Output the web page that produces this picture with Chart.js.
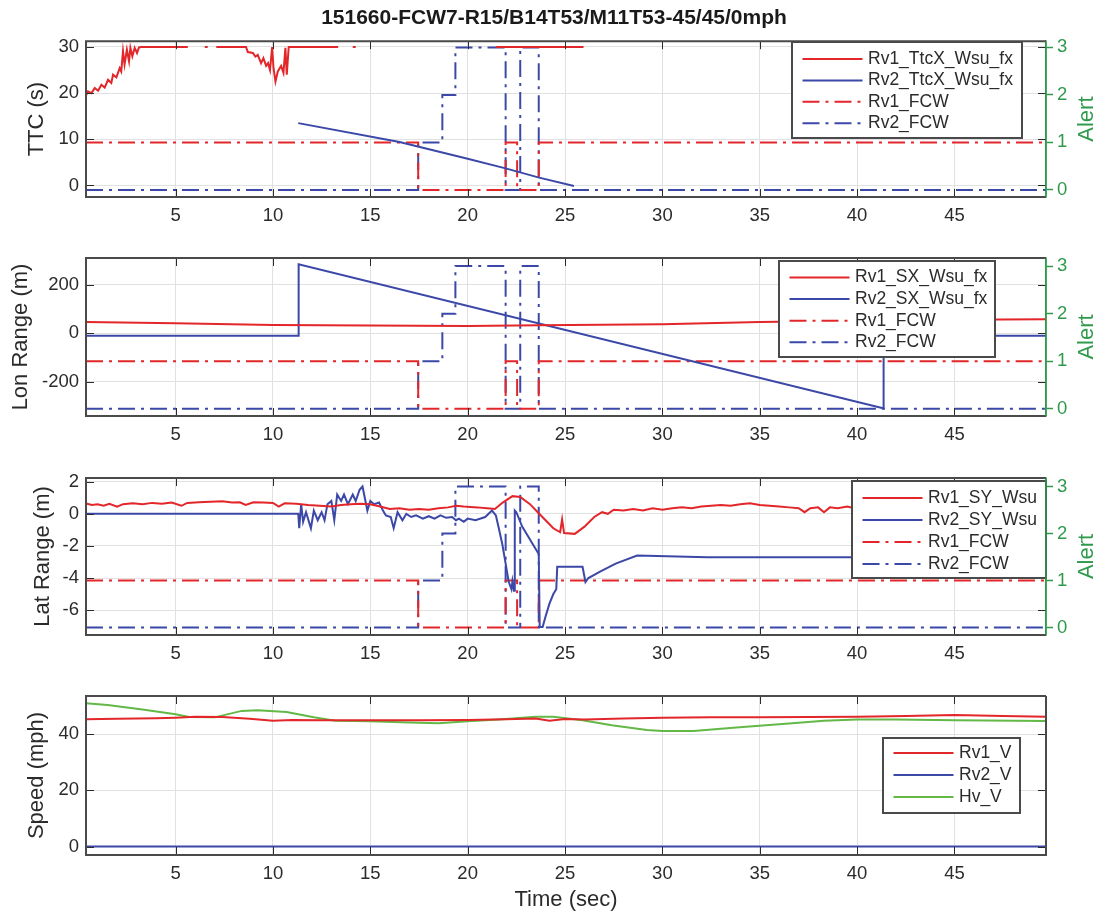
<!DOCTYPE html>
<html>
<head>
<meta charset="utf-8">
<title>151660-FCW7-R15/B14T53/M11T53-45/45/0mph</title>
<script src="https://cdn.jsdelivr.net/npm/chart.js@4.4.1/dist/chart.umd.min.js"></script>
<style>
  body { margin: 0; background: #fff; }
  #wrap { position: relative; width: 1108px; height: 913px; }
  #wrap canvas { position: absolute; left: 0; }
</style>
</head>
<body>
<div id="wrap">
  <canvas id="ttcChart" width="1108" height="230" style="top:0"></canvas>
  <canvas id="lonChart" width="1108" height="220" style="top:230px"></canvas>
  <canvas id="latChart" width="1108" height="220" style="top:450px"></canvas>
  <canvas id="speedChart" width="1108" height="243" style="top:670px"></canvas>
</div>
<script>
const chartTitle = "151660-FCW7-R15/B14T53/M11T53-45/45/0mph";

// tick labels
const timeTicks = [5, 10, 15, 20, 25, 30, 35, 40, 45];
const ttcTicks = [0, 10, 20, 30];
const lonTicks = [-200, 0, 200];
const latTicks = [-6, -4, -2, 0, 2];
const speedTicks = [0, 20, 40];
const alertTicks = [0, 1, 2, 3];

// FCW alert levels (held until the next time stamp)
const rv1FcwTime  = [0.4, 17.46, 21.95, 22.54, 23.65, 49.7];
const rv1FcwLevel = [1, 0, 1, 0, 1, 1];
const rv2FcwTime  = [0.4, 17.46, 18.7, 19.37, 21.95, 22.7, 23.65, 49.7];
const rv2FcwLevel = [0, 1, 2, 3, 0, 3, 0, 0];

// time to collision (s), null = no value
const rv1TtcTime = [0.38, 0.5, 0.68, 0.85, 1.02, 1.19, 1.36, 1.53, 1.7, 1.79, 1.96, 2.13, 2.21, 2.3, 2.38, 2.5, 2.61, 2.68, 2.78, 2.9, 3.02, 3.12, 3.24, 5.63, 5.7,
  6.5, 6.65, 6.7, 7.09, 8.62, 8.71, 8.97, 9.1, 9.22, 9.39, 9.51, 9.65, 9.75, 9.85, 9.96, 10.03, 10.13, 10.25, 10.42, 10.54, 10.64, 10.71, 10.81,
  13.35, 13.4, 14.1, 14.25, 14.3, 21.45, 25.95];
const rv1TtcVal = [19.3, 20.4, 20, 21.1, 20.5, 21.8, 21.2, 22.9, 22.2, 24, 23.4, 25.4, 24.7, 29.1, 26.2, 29.4, 26.9, 29.8, 28, 29.8, 28.7, 29.9, 30, 30, null,
  30, 30, null, 30, 30, 28.9, 28.7, 27.9, 28.3, 26.5, 27.6, 25.9, 26.5, 25.0, 30, 25.4, 22.5, 24.7, 25.9, 24.4, 29.8, 24.0, 30,
  30, null, 30, 30, null, 30, 30];
const rv2TtcTime = [11.3, 16.5, 20, 21.95, 23.67, 25.46];
const rv2TtcVal  = [13.5, 9.4, 5.8, 3.7, 1.7, -0.1];

// longitudinal range (m)
const rv1SxTime = [0.4, 5, 10, 15, 20, 23.7, 30, 35, 40, 45, 49.7];
const rv1SxVal  = [47, 41, 34, 32, 30, 33, 37, 47, 52, 56, 58];
const rv2SxTime = [0.4, 11.3, 11.32, 41.33, 41.36, 49.7];
const rv2SxVal  = [-10, -10, 285, -310, -10, -10];

// lateral range (m)
const rv1SyTime = [0.4, 0.7, 1.0, 1.3, 1.6, 2.0, 2.3, 2.8, 3.3, 3.8, 4.3, 4.8, 5.3, 5.6, 6.2, 6.8, 7.4, 7.9, 8.3, 8.6, 9.0, 9.5, 10.0, 10.3, 10.6,
  11.2, 11.8, 12.4, 13.0, 13.5, 14.0, 14.5, 15.0, 15.5, 16.0, 16.5, 17.0, 17.5, 18.0, 18.5, 19.0, 19.4, 19.8, 20.5, 21.0, 21.4, 21.8, 22.3, 22.7,
  23.2, 23.6, 24.0, 24.4, 24.75, 24.85, 24.95, 25.5, 26.0, 26.5, 26.9, 27.2, 27.5, 28.0, 28.5, 29.0, 29.5, 30.0, 30.5, 31.0, 31.5, 32.0, 32.5,
  33.0, 33.5, 34.0, 34.5, 35.0, 35.5, 36.0, 36.5, 37.0, 37.3, 37.6, 38.0, 38.3, 38.6, 39.0, 39.5, 40.0, 40.5, 41, 45, 49.7];
const rv1SyVal = [0.65, 0.55, 0.6, 0.5, 0.62, 0.45, 0.6, 0.65, 0.6, 0.68, 0.62, 0.7, 0.5, 0.68, 0.72, 0.75, 0.78, 0.7, 0.72, 0.55, 0.72, 0.7, 0.68, 0.45, 0.65,
  0.62, 0.55, 0.5, 0.45, 0.55, 0.6, 0.62, 0.6, 0.45, 0.3, 0.35, 0.25, 0.3, 0.25, 0.35, 0.4, 0.5, 0.45, 0.4, 0.35, 0.3, 0.7, 1.1, 1.05,
  0.6, 0.1, -0.4, -0.9, -1.15, -0.35, -1.2, -1.25, -0.8, -0.2, 0.1, 0.0, 0.25, 0.2, 0.3, 0.2, 0.35, 0.25, 0.35, 0.4, 0.35, 0.45, 0.5,
  0.55, 0.5, 0.6, 0.65, 0.55, 0.5, 0.45, 0.4, 0.35, 0.1, 0.35, 0.4, 0.1, 0.4, 0.35, 0.45, 0.3, 0.35, 0.4, 0.5, 0.45];
const rv2SyTime = [0.4, 11.3, 11.35, 11.45, 11.55, 11.7, 11.95, 12.1, 12.3, 12.5, 12.65, 12.8, 13.0, 13.15, 13.3, 13.5, 13.65, 13.85, 14.1, 14.25,
  14.45, 14.6, 14.75, 14.85, 15.0, 15.2, 15.45, 15.65, 15.8, 16.05, 16.2, 16.4, 16.65, 16.85, 17.1, 17.35, 17.7, 18.0, 18.3, 18.6, 18.9, 19.2,
  19.4, 19.55, 19.8, 20.0, 20.4, 20.9, 21.25, 21.45, 21.6, 21.78, 21.95, 22.1, 22.25, 22.3, 22.38, 22.42, 22.5, 22.8, 23.1, 23.4, 23.65, 23.7,
  23.85, 24.0, 24.2, 24.4, 24.55, 24.6, 25.9, 26.05, 26.2, 26.8, 27.6, 28.7, 32.3, 49.7];
const rv2SyVal = [0, 0, -0.9, 0.6, -0.5, 0.1, -0.9, 0.2, -0.4, 0.1, -0.4, 0.6, 0.8, -0.4, 1.2, 0.8, 1.2, 0.6, 1.2, 0.8,
  1.5, 1.7, 0.8, 0.2, 0.8, 0.6, 0.7, 0.2, -0.1, -0.2, -0.9, 0.1, -0.4, 0, -0.2, -0.1, -0.3, -0.15, -0.3, -0.1, -0.25, -0.2,
  -0.4, -0.3, -0.5, -0.3, -0.4, -0.2, 0.2, -0.1, -0.9, -1.9, -3.1, -4.2, -4.7, -4.2, -4.8, 0.2, 0.1, -0.8, -1.4, -2.0, -2.5, -7.05,
  -7.05, -6.4, -5.6, -5.0, -4.7, -3.3, -3.3, -4.25, -4.0, -3.6, -3.1, -2.6, -2.7, -2.7];

// speeds (mph)
const rv1SpeedTime = [0.4, 2, 4, 5, 6, 7.4, 8.8, 10, 11, 12.5, 15, 17.5, 20, 22, 23.5, 24.2, 25, 26, 28, 30, 32.5, 35, 37.5, 40, 42.5, 45, 47.5, 49.7];
const rv1SpeedVal  = [45.3, 45.5, 45.7, 45.9, 46.2, 46.1, 45.5, 44.8, 45.1, 45, 45, 45, 45.1, 45.3, 45.6, 44.8, 45.4, 45.2, 45.6, 45.9, 46, 46, 46.1, 46.2, 46.5, 46.8, 46.5, 46.2];
const rv2SpeedTime = [0.4, 49.7];
const rv2SpeedVal  = [0, 0];
const hvSpeedTime = [0.4, 1.5, 3.3, 5, 5.7, 7, 8.4, 9.2, 10.7, 12.1, 13.2, 15, 17, 18.5, 20, 21.6, 23.5, 24.4, 25.9, 27.4, 29.2, 30, 31.6, 33.8, 36.5, 38.3, 40, 42, 45, 49.7];
const hvSpeedVal  = [51.0, 50.4, 48.8, 47.1, 46.1, 46.0, 48.3, 48.5, 47.9, 46.0, 44.8, 44.6, 44.2, 43.9, 44.6, 45.2, 46.2, 46.2, 45.0, 43.2, 41.5, 41.1, 41.1, 42.4, 43.8, 44.8, 45.2, 45.2, 45.0, 44.7];

const X_MIN = 0.4, X_MAX = 49.7;
const PLOT_LEFT = 86, RIGHT_GUTTER = 62;

const RED = '#e3262a';
const BLUE = '#3b48a8';
const GREEN = '#63b847';
const ALERT_GREEN = '#2f9a4c';
const INK = '#2b2b2b';
const GRID = '#e1e1e1';
const FRAME = '#4a4a4a';
const DASHDOT = [17, 6, 3, 6];
const FONT = "'Liberation Sans', Arial, Helvetica, sans-serif";
const TICK_FONT = 18.5;
const TICK_IN = 8;

Chart.defaults.font.family = FONT;

const pts = (ts, vs) => ts.map((t, i) => ({ x: t, y: vs[i] }));

function lineSet(label, data, color, extra) {
  return Object.assign({
    label, data, borderColor: color, backgroundColor: color, borderWidth: 2,
    pointRadius: 0, tension: 0, fill: false, spanGaps: false, yAxisID: 'y'
  }, extra || {});
}

function fcwSet(label, times, levels, color) {
  return lineSet(label, pts(times, levels), color, { yAxisID: 'y1', stepped: true, borderDash: DASHDOT });
}

function xScale(height, showTitle) {
  return {
    type: 'linear', position: 'bottom', min: X_MIN, max: X_MAX,
    afterBuildTicks: s => { s.ticks = timeTicks.map(v => ({ value: v })); },
    afterFit: s => { s.height = height; },
    ticks: { color: INK, font: { size: TICK_FONT }, padding: 8, maxRotation: 0, autoSkip: false },
    grid: { color: GRID, drawTicks: false },
    border: { display: false },
    title: { display: showTitle, text: 'Time (sec)', color: INK, font: { size: 22 }, padding: { top: 0, bottom: 0 } }
  };
}

function leftScale(min, max, ticks, title, titlePad) {
  return {
    type: 'linear', position: 'left', min, max,
    afterBuildTicks: s => { s.ticks = ticks.map(v => ({ value: v })); },
    afterFit: s => { s.width = PLOT_LEFT; },
    ticks: { color: INK, font: { size: TICK_FONT }, padding: 7 },
    grid: { color: GRID, drawTicks: false },
    border: { display: false },
    title: { display: true, text: title, color: INK, font: { size: 22 }, padding: { top: titlePad, bottom: 0 } }
  };
}

function alertScale(min, max) {
  return {
    type: 'linear', position: 'right', min, max,
    afterBuildTicks: s => { s.ticks = alertTicks.map(v => ({ value: v })); },
    afterFit: s => { s.width = RIGHT_GUTTER; },
    ticks: { color: ALERT_GREEN, font: { size: TICK_FONT }, padding: 4 },
    grid: { drawOnChartArea: false, drawTicks: true, tickLength: 7, tickColor: ALERT_GREEN, tickWidth: 1.5 },
    border: { display: true, color: ALERT_GREEN, width: 1.5 }
  };
}

function drawLegend(chart, L) {
  const { ctx } = chart;
  ctx.save();
  ctx.fillStyle = '#fff';
  ctx.fillRect(L.x, L.y, L.w, L.h);
  ctx.strokeStyle = FRAME;
  ctx.lineWidth = 2;
  ctx.strokeRect(L.x, L.y, L.w, L.h);
  ctx.font = '17.5px ' + FONT;
  ctx.textBaseline = 'middle';
  ctx.textAlign = 'left';
  chart.data.datasets.forEach((ds, i) => {
    const ry = L.y + L.first + i * L.gap;
    ctx.save();
    ctx.strokeStyle = ds.borderColor;
    ctx.lineWidth = 2;
    ctx.setLineDash(ds.borderDash || []);
    ctx.beginPath();
    ctx.moveTo(L.x + 10.5, ry);
    ctx.lineTo(L.x + 70.5, ry);
    ctx.stroke();
    ctx.restore();
    ctx.fillStyle = INK;
    ctx.fillText(ds.label, L.x + 76, ry);
  });
  ctx.restore();
}

// Matlab style box: inward ticks, legend inside the axes, frame and "Alert" label
const matlabAxes = {
  id: 'matlabAxes',
  afterDraw(chart, args, opts) {
    const { ctx, chartArea: a, scales } = chart;
    ctx.save();
    ctx.strokeStyle = INK;
    ctx.lineWidth = 1;
    ctx.beginPath();
    scales.x.ticks.forEach(t => {
      const px = Math.round(scales.x.getPixelForValue(t.value)) + 0.5;
      ctx.moveTo(px, a.top); ctx.lineTo(px, a.top + TICK_IN);
      ctx.moveTo(px, a.bottom); ctx.lineTo(px, a.bottom - TICK_IN);
    });
    scales.y.ticks.forEach(t => {
      const py = Math.round(scales.y.getPixelForValue(t.value)) + 0.5;
      ctx.moveTo(a.left, py); ctx.lineTo(a.left + TICK_IN, py);
      ctx.moveTo(a.right, py); ctx.lineTo(a.right - TICK_IN, py);
    });
    ctx.stroke();

    if (opts.legend) drawLegend(chart, opts.legend);

    ctx.strokeStyle = FRAME;
    ctx.lineWidth = 2;
    ctx.beginPath();
    ctx.moveTo(a.right, a.top);
    ctx.lineTo(a.left, a.top);
    ctx.lineTo(a.left, a.bottom);
    ctx.lineTo(a.right, a.bottom);
    if (!scales.y1) ctx.lineTo(a.right, a.top);
    ctx.stroke();

    if (scales.y1) {
      ctx.strokeStyle = ALERT_GREEN;
      ctx.lineWidth = 1.5;
      ctx.beginPath();
      ctx.moveTo(a.right, a.top);
      ctx.lineTo(a.right, a.bottom);
      ctx.stroke();
      ctx.translate(a.right + 41, (a.top + a.bottom) / 2);
      ctx.rotate(-Math.PI / 2);
      ctx.fillStyle = ALERT_GREEN;
      ctx.font = '22px ' + FONT;
      ctx.textAlign = 'center';
      ctx.textBaseline = 'middle';
      ctx.fillText('Alert', 0, 0);
    }
    ctx.restore();
  }
};

function makeChart(id, cfg) {
  return new Chart(document.getElementById(id), {
    type: 'line',
    data: { datasets: cfg.datasets },
    plugins: [matlabAxes],
    options: {
      responsive: false,
      animation: false,
      devicePixelRatio: 1,
      events: [],
      layout: { padding: { top: cfg.padTop, right: cfg.padRight || 0, bottom: 0, left: 0 } },
      plugins: {
        legend: { display: false },
        tooltip: { enabled: false },
        title: cfg.title || { display: false },
        matlabAxes: { legend: cfg.legend }
      },
      scales: cfg.scales
    }
  });
}

makeChart('ttcChart', {
  padTop: 0,
  title: {
    display: true, text: chartTitle, color: '#1a1a1a',
    font: { size: 21, weight: 'bold' }, padding: { top: 6, bottom: 10 }
  },
  datasets: [
    lineSet('Rv1_TtcX_Wsu_fx', pts(rv1TtcTime, rv1TtcVal), RED),
    lineSet('Rv2_TtcX_Wsu_fx', pts(rv2TtcTime, rv2TtcVal), BLUE),
    fcwSet('Rv1_FCW', rv1FcwTime, rv1FcwLevel, RED),
    fcwSet('Rv2_FCW', rv2FcwTime, rv2FcwLevel, BLUE)
  ],
  legend: { x: 792, y: 42, w: 230, h: 96, first: 17, gap: 21.4 },
  scales: {
    x: xScale(33, false),
    y: leftScale(-2.5, 31.25, ttcTicks, 'TTC (s)', 24),
    y1: alertScale(-0.15, 3.13)
  }
});

makeChart('lonChart', {
  padTop: 28,
  datasets: [
    lineSet('Rv1_SX_Wsu_fx', pts(rv1SxTime, rv1SxVal), RED),
    lineSet('Rv2_SX_Wsu_fx', pts(rv2SxTime, rv2SxVal), BLUE),
    fcwSet('Rv1_FCW', rv1FcwTime, rv1FcwLevel, RED),
    fcwSet('Rv2_FCW', rv2FcwTime, rv2FcwLevel, BLUE)
  ],
  legend: { x: 779, y: 31, w: 216, h: 96, first: 16.5, gap: 21.6 },
  scales: {
    x: xScale(34, false),
    y: leftScale(-342, 311, lonTicks, 'Lon Range (m)', 8),
    y1: alertScale(-0.15, 3.17)
  }
});

makeChart('latChart', {
  padTop: 28,
  datasets: [
    lineSet('Rv1_SY_Wsu', pts(rv1SyTime, rv1SyVal), RED),
    lineSet('Rv2_SY_Wsu', pts(rv2SyTime, rv2SyVal), BLUE),
    fcwSet('Rv1_FCW', rv1FcwTime, rv1FcwLevel, RED),
    fcwSet('Rv2_FCW', rv2FcwTime, rv2FcwLevel, BLUE)
  ],
  legend: { x: 852, y: 31, w: 194, h: 97, first: 17, gap: 22 },
  scales: {
    x: xScale(35, false),
    y: leftScale(-7.55, 2.23, latTicks, 'Lat Range (m)', 30),
    y1: alertScale(-0.16, 3.18)
  }
});

makeChart('speedChart', {
  padTop: 26,
  padRight: RIGHT_GUTTER,
  datasets: [
    lineSet('Rv1_V', pts(rv1SpeedTime, rv1SpeedVal), RED),
    lineSet('Rv2_V', pts(rv2SpeedTime, rv2SpeedVal), BLUE),
    lineSet('Hv_V', pts(hvSpeedTime, hvSpeedVal), GREEN)
  ],
  legend: { x: 883, y: 68, w: 137, h: 75, first: 15, gap: 22 },
  scales: {
    x: xScale(58, true),
    y: leftScale(-3, 53.6, speedTicks, 'Speed (mph)', 24)
  }
});
</script>
</body>
</html>
